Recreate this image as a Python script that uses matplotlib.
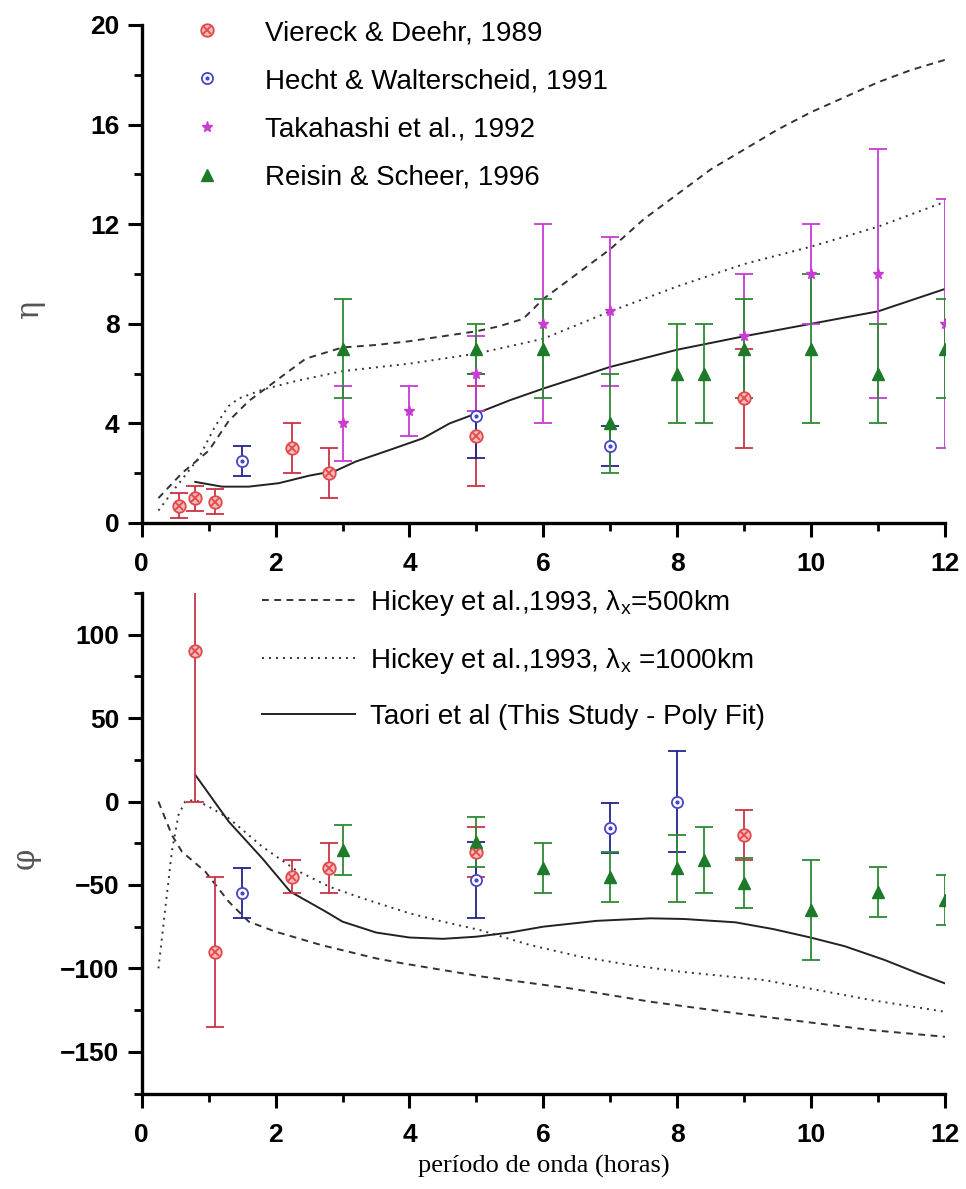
import matplotlib
matplotlib.use('Agg')
import matplotlib.pyplot as plt
from matplotlib.lines import Line2D
from matplotlib.ticker import MultipleLocator

plt.rcParams['font.family'] = ['Liberation Sans', 'DejaVu Sans']
plt.rcParams['mathtext.fontset'] = 'custom'
plt.rcParams['mathtext.rm'] = 'Liberation Sans'
plt.rcParams['mathtext.it'] = 'Liberation Sans:italic'

# ---------------- data: eta (top panel) ----------------
vier_eta_x = [0.55, 0.8, 1.1, 2.25, 2.8, 5.0, 9.0]
vier_eta_y = [0.7, 1.0, 0.85, 3.0, 2.0, 3.5, 5.0]
vier_eta_e = [0.5, 0.5, 0.5, 1.0, 1.0, 2.0, 2.0]

hech_eta_x = [1.5, 5.0, 7.0]
hech_eta_y = [2.5, 4.3, 3.1]
hech_eta_e = [0.6, 1.7, 0.8]

taka_eta_x = [3.0, 4.0, 5.0, 6.0, 7.0, 9.0, 10.0, 11.0, 12.0]
taka_eta_y = [4.0, 4.5, 6.0, 8.0, 8.5, 7.5, 10.0, 10.0, 8.0]
taka_eta_e = [1.5, 1.0, 1.5, 4.0, 3.0, 2.5, 2.0, 5.0, 5.0]

reis_eta_x = [3.0, 5.0, 6.0, 7.0, 8.0, 8.4, 9.0, 10.0, 11.0, 12.0]
reis_eta_y = [7.0, 7.0, 7.0, 4.0, 6.0, 6.0, 7.0, 7.0, 6.0, 7.0]
reis_eta_e = [2.0, 1.0, 2.0, 2.0, 2.0, 2.0, 2.0, 3.0, 2.0, 2.0]

h500_eta_x = [0.25, 0.6, 1.0, 1.3, 1.6, 1.9, 2.45, 3.0, 3.5, 4.0, 4.5, 5.0, 5.34,
              5.7, 6.0, 6.5, 7.0, 7.5, 8.0, 8.5, 9.0, 9.5, 10.0, 10.5, 11.0, 11.5, 12.0]
h500_eta_y = [1.0, 2.0, 2.9, 4.1, 4.9, 5.5, 6.6, 7.05, 7.15, 7.3, 7.5, 7.7, 7.9,
              8.2, 9.0, 10.0, 11.0, 12.2, 13.2, 14.2, 15.0, 15.8, 16.5, 17.1, 17.7, 18.2, 18.6]

h1000_eta_x = [0.25, 0.5, 0.85, 1.1, 1.3, 1.45, 1.8, 2.3, 3.0, 4.0, 5.0, 6.0, 7.0,
               8.0, 9.0, 10.0, 11.0, 12.0]
h1000_eta_y = [0.5, 1.4, 2.6, 3.9, 4.7, 5.0, 5.35, 5.7, 6.1, 6.4, 6.8, 7.4, 8.5,
               9.5, 10.4, 11.1, 11.9, 12.9]

taori_eta_x = [0.8, 1.2, 1.6, 2.05, 2.5, 2.9, 3.2, 3.7, 4.2, 4.6, 5.0, 5.5, 6.0,
               7.0, 8.0, 9.0, 10.0, 11.0, 12.0]
taori_eta_y = [1.65, 1.46, 1.46, 1.6, 1.9, 2.1, 2.47, 2.93, 3.4, 4.0, 4.4, 4.93, 5.4,
               6.27, 6.96, 7.5, 8.0, 8.5, 9.4]

# ---------------- data: phi (bottom panel) ----------------
vier_phi_x = [0.8, 1.1, 2.25, 2.8, 5.0, 9.0]
vier_phi_y = [90, -90, -45, -40, -30, -20]
vier_phi_e = [90, 45, 10, 15, 15, 15]

hech_phi_x = [1.5, 5.0, 7.0, 8.0]
hech_phi_y = [-55, -47, -16, 0]
hech_phi_e = [15, 23, 15, 30]

reis_phi_x = [3.0, 5.0, 6.0, 7.0, 8.0, 8.4, 9.0, 10.0, 11.0, 12.0]
reis_phi_y = [-29, -24, -40, -45, -40, -35, -49, -65, -54, -59]
reis_phi_e = [15, 15, 15, 15, 20, 20, 15, 30, 15, 15]

h500_phi_x = [0.25, 0.45, 0.6, 0.95, 1.3, 1.6, 2.0, 2.68, 3.5, 3.9, 5.1, 6.4, 7.6,
              8.9, 10.1, 10.9, 12.0]
h500_phi_y = [0, -20, -30, -42, -60, -72, -78, -86, -94, -97, -105, -112, -120,
              -127, -133, -137, -141]

h1000_phi_x = [0.25, 0.35, 0.45, 0.55, 0.65, 0.8, 1.0, 1.3, 1.8, 2.3, 2.8, 3.3, 4.0,
               4.5, 5.05, 5.8, 6.55, 7.3, 8.05, 9.3, 10.1, 10.9, 12.0]
h1000_phi_y = [-100, -65, -30, -8, 0, 1, -3, -10, -27, -41, -51, -58, -67,
               -72, -77, -86, -93, -98, -102, -107, -113, -119, -126]

taori_phi_x = [0.8, 1.3, 1.8, 2.22, 2.75, 3.0, 3.5, 4.0, 4.5, 5.0, 5.5, 6.0, 6.8,
               7.6, 8.1, 8.87, 9.44, 10.0, 10.5, 11.1, 11.6, 12.0]
taori_phi_y = [16, -12, -34, -54, -66, -72, -78.5, -81.5, -82.3, -81, -78.5, -75, -71.5,
               -70, -70.4, -72.4, -76.5, -81.6, -86.7, -95, -103, -109]

legend_top = ['Viereck & Deehr, 1989', 'Hecht & Walterscheid, 1991',
              'Takahashi et al., 1992', 'Reisin & Scheer, 1996']
legend_bot = [r'Hickey et al.,1993, λ$_{\rm x}$=500km',
              r'Hickey et al.,1993, λ$_{\rm x}$ =1000km',
              'Taori et al (This Study - Poly Fit)']
x_ticks = [0, 2, 4, 6, 8, 10, 12]
eta_ticks = [0, 4, 8, 12, 16, 20]
phi_ticks = [-150, -100, -50, 0, 50, 100]

# ---------------- styles ----------------
RED_M, RED_E = '#e04a4a', '#cc3344'
BLU_M, BLU_E = '#4646c8', '#23238c'
MAG = '#c83cd2'
GRN_M, GRN_E = '#1c7a28', '#2e8a34'
CURVE = '#333333'

W, H = 966, 1189
fig = plt.figure(figsize=(W / 100, H / 100), dpi=100)
left = 141.7 / W
width = (945 - 141.7) / W
ax1 = fig.add_axes([left, 1 - 523 / H, width, 498 / H])
ax2 = fig.add_axes([left, 1 - 1093.5 / H, width, 500.5 / H])

dash_style = (0, (3.5, 2.8))
dot_style = (0, (1.0, 2.6))


def curves(ax, xa, ya, xb, yb, xc, yc):
    l1, = ax.plot(xa, ya, color=CURVE, lw=1.4, ls=dash_style, zorder=2)
    l2, = ax.plot(xb, yb, color=CURVE, lw=1.4, ls=dot_style, zorder=2)
    l3, = ax.plot(xc, yc, color='#222222', lw=1.4, ls='-', zorder=2)
    return l1, l2, l3


def ebar(ax, x, y, e, col):
    ax.errorbar(x, y, yerr=e, fmt='none', ecolor=col, elinewidth=1.3,
                capsize=6.5, capthick=1.3, zorder=3)


def vier(ax, x, y):
    ax.plot(x, y, ls='none', marker='o', ms=9, mfc='#f6b8b8', mec=RED_M, mew=1.3, zorder=5)
    ax.plot(x, y, ls='none', marker='x', ms=6, mec=RED_M, mew=1.3, zorder=6)


def hech(ax, x, y):
    ax.plot(x, y, ls='none', marker='o', ms=8, mfc='white', mec=BLU_M, mew=1.3, zorder=5)
    ax.plot(x, y, ls='none', marker='o', ms=2, mfc=BLU_M, mec=BLU_M, zorder=6)


def taka(ax, x, y):
    ax.plot(x, y, ls='none', marker='*', ms=8, mfc=MAG, mec=MAG, zorder=5)


def reis(ax, x, y):
    ax.plot(x, y, ls='none', marker='^', ms=9, mfc=GRN_M, mec=GRN_M, zorder=5)


# ---------------- top panel ----------------
curves(ax1, h500_eta_x, h500_eta_y, h1000_eta_x, h1000_eta_y, taori_eta_x, taori_eta_y)
ebar(ax1, vier_eta_x, vier_eta_y, vier_eta_e, RED_E)
ebar(ax1, hech_eta_x, hech_eta_y, hech_eta_e, BLU_E)
ebar(ax1, taka_eta_x, taka_eta_y, taka_eta_e, MAG)
ebar(ax1, reis_eta_x, reis_eta_y, reis_eta_e, GRN_E)
vier(ax1, vier_eta_x, vier_eta_y)
hech(ax1, hech_eta_x, hech_eta_y)
taka(ax1, taka_eta_x, taka_eta_y)
reis(ax1, reis_eta_x, reis_eta_y)

# ---------------- bottom panel ----------------
lines = curves(ax2, h500_phi_x, h500_phi_y, h1000_phi_x, h1000_phi_y, taori_phi_x, taori_phi_y)
ebar(ax2, vier_phi_x, vier_phi_y, vier_phi_e, RED_E)
ebar(ax2, hech_phi_x, hech_phi_y, hech_phi_e, BLU_E)
ebar(ax2, reis_phi_x, reis_phi_y, reis_phi_e, GRN_E)
vier(ax2, vier_phi_x, vier_phi_y)
hech(ax2, hech_phi_x, hech_phi_y)
reis(ax2, reis_phi_x, reis_phi_y)

# ---------------- axes styling ----------------
for ax, yt, ylim in [(ax1, eta_ticks, (0, 20)), (ax2, phi_ticks, (-175, 125))]:
    ax.set_xlim(0, 12)
    ax.set_ylim(*ylim)
    ax.set_xticks(x_ticks)
    ax.set_yticks(yt)
    ax.xaxis.set_minor_locator(MultipleLocator(1))
    if ax is ax1:
        ax.yaxis.set_minor_locator(MultipleLocator(2))
    else:
        ax.set_yticks([-175, -125, -75, -25, 25, 75, 125], minor=True)
    for s in ['top', 'right']:
        ax.spines[s].set_visible(False)
    for s in ['left', 'bottom']:
        ax.spines[s].set_linewidth(2.4)
    ax.tick_params(which='major', direction='out', length=10, width=2.2, labelsize=19)
    ax.tick_params(which='minor', direction='out', length=6, width=2.0)
    ax.tick_params(axis='x', which='major', pad=11)
    ax.tick_params(axis='y', which='major', pad=6)
    for lab in ax.get_xticklabels() + ax.get_yticklabels():
        lab.set_fontweight('bold')
    ax.patch.set_alpha(0)

ax1.set_ylabel('η', fontsize=22, family=['DejaVu Serif'], color='#555555', labelpad=0)
ax1.yaxis.set_label_coords(-0.12, 0.43)
ax2.set_ylabel('φ', fontsize=22, family=['DejaVu Serif'], color='#555555', labelpad=0)
ax2.yaxis.set_label_coords(-0.126, 0.47)
ax2.set_xlabel('período de onda (horas)', fontsize=19, family=['Liberation Serif'],
               labelpad=6)

# ---------------- legends ----------------
h_v = (Line2D([], [], ls='none', marker='o', ms=9, mfc='#f6b8b8', mec=RED_M, mew=1.3),
       Line2D([], [], ls='none', marker='x', ms=6, mec=RED_M, mew=1.3))
h_h = (Line2D([], [], ls='none', marker='o', ms=8, mfc='white', mec=BLU_M, mew=1.3),
       Line2D([], [], ls='none', marker='o', ms=2, mfc=BLU_M, mec=BLU_M))
h_t = Line2D([], [], ls='none', marker='*', ms=8, mfc=MAG, mec=MAG)
h_r = Line2D([], [], ls='none', marker='^', ms=9, mfc=GRN_M, mec=GRN_M)
leg1 = ax1.legend([h_v, h_h, h_t, h_r], legend_top, loc='upper left',
                  bbox_to_anchor=(193 / W, 1 - 20 / H), bbox_transform=fig.transFigure,
                  frameon=False, fontsize=20, handlelength=1.0, handletextpad=1.6,
                  labelspacing=0.8, borderpad=0, borderaxespad=0)

leg2 = ax2.legend(list(lines), legend_bot, loc='upper left',
                  bbox_to_anchor=(262 / W, 1 - 588 / H), bbox_transform=fig.transFigure,
                  frameon=False, fontsize=20, handlelength=3.35, handletextpad=0.55,
                  labelspacing=1.0, borderpad=0, borderaxespad=0)

fig.savefig('out.png', dpi=100, facecolor='white')
